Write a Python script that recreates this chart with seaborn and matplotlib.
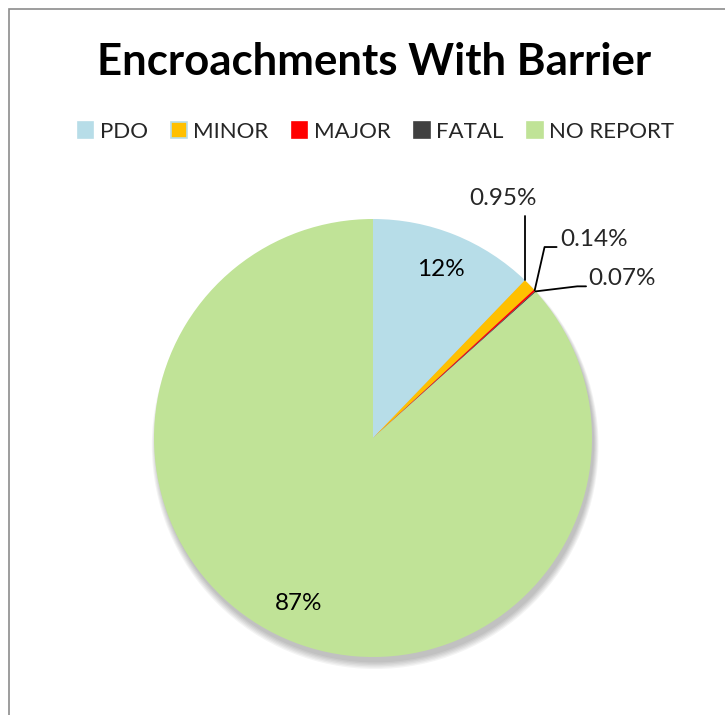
import numpy as np
import matplotlib
matplotlib.use("Agg")
import matplotlib.pyplot as plt
import matplotlib.patches as mpatches
import seaborn as sns

categories = ["PDO", "MINOR", "MAJOR", "FATAL", "NO REPORT"]
values = [12.2, 0.95, 0.14, 0.07, 86.64]
colors = ["#B7DDE8", "#FFC000", "#FF0000", "#404040", "#C0E397"]
title = "Encroachments With Barrier"

sns.set_theme(style="white")
plt.rcParams["font.family"] = ["Lato", "DejaVu Sans"]

fig = plt.figure(figsize=(7.25, 7.15), dpi=100)
fig.patch.set_facecolor("white")

# chart border
border = mpatches.Rectangle((8.5 / 725, -0.01), 1.2, (715 - 8.5) / 715 + 0.01,
                            transform=fig.transFigure, fill=False,
                            edgecolor="#8C8C8C", linewidth=1.2)
fig.patches.append(border)

ax = fig.add_axes([154 / 725, 58 / 715, 438 / 725, 438 / 715])

def fmt(v):
    return f"{v:.0f}%" if v >= 1 else f"{v:.2f}%"

# soft shadow
for k in range(6):
    sh = mpatches.Circle((0.01, -0.025 - 0.002 * k), 1.0 + 0.004 * k,
                         color="black", alpha=0.045, lw=0, zorder=0, clip_on=False)
    ax.add_patch(sh)

wedges, _ = ax.pie(values, colors=colors, startangle=90, counterclock=False,
                   radius=1.0, wedgeprops=dict(linewidth=0, clip_on=False),
                   normalize=True)
for w in wedges:
    w.set_zorder(2)

ax.set_xlim(-1, 1)
ax.set_ylim(-1, 1)
ax.set_aspect("equal")
ax.axis("off")

label_fs = 17.5
# big labels inside
for i in [0, 4]:
    w = wedges[i]
    mid = np.deg2rad((w.theta1 + w.theta2) / 2)
    ax.text(0.83 * np.cos(mid), 0.83 * np.sin(mid), fmt(values[i]),
            ha="center", va="center", fontsize=label_fs, color="black", zorder=5)

# small labels with leader lines
def anchor(i):
    w = wedges[i]
    mid = np.deg2rad((w.theta1 + w.theta2) / 2)
    return np.cos(mid), np.sin(mid)

lc = dict(color="black", lw=1.3, zorder=4, clip_on=False)
# MINOR
ax_, ay_ = anchor(1)
ax.plot([ax_ - 0.02, ax_ - 0.02], [ay_ + 0.02, 1.015], **lc)
ax.text(ax_ - 0.12, 1.045, fmt(values[1]), ha="center", va="bottom",
        fontsize=label_fs, zorder=5)
# MAJOR
ax_, ay_ = anchor(2)
ax.plot([ax_, ax_ + 0.045, ax_ + 0.10], [ay_, 0.872, 0.872], **lc)
ax.text(ax_ + 0.115, 0.905, fmt(values[2]), ha="left", va="center",
        fontsize=label_fs, zorder=5)
# FATAL
ax_, ay_ = anchor(3)
ax.plot([ax_, ax_ + 0.19, ax_ + 0.23], [ay_, ay_ + 0.023, ay_ + 0.023], **lc)
ax.text(ax_ + 0.24, ay_ + 0.058, fmt(values[3]), ha="left", va="center",
        fontsize=label_fs, zorder=5)

fig.text(374 / 725, 1 - 62 / 715, title, ha="center", va="center",
         fontsize=31.5, fontweight="bold", color="black")

handles = []
for c, lab in zip(colors, categories):
    ec = "#B7DDE8" if lab == "MINOR" else c
    handles.append(mpatches.Patch(facecolor=c, edgecolor=ec, linewidth=1.2, label=lab))
fig.legend(handles=handles, loc="center", bbox_to_anchor=(376 / 725, 1 - 132 / 715),
           ncol=5, frameon=False, fontsize=16, handlelength=0.7, handleheight=0.7,
           handletextpad=0.3, columnspacing=1.05, borderaxespad=0)

fig.savefig("out.png", dpi=100, facecolor="white")
